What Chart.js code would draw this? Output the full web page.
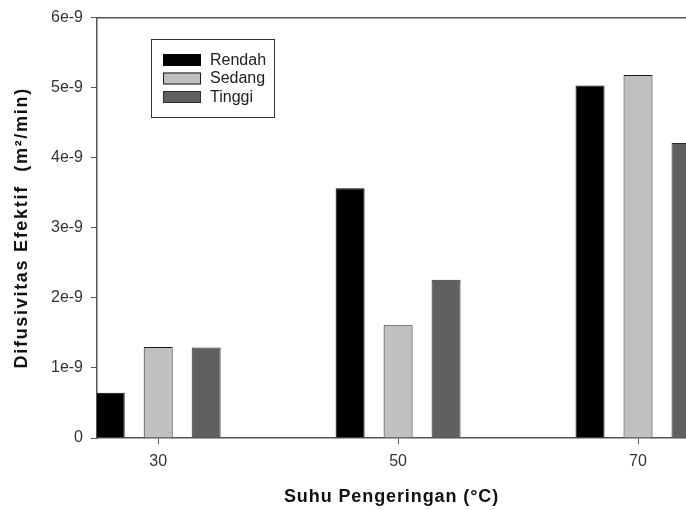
<!DOCTYPE html>
<html>
<head>
<meta charset="utf-8">
<title>Difusivitas Efektif</title>
<script src="https://cdn.jsdelivr.net/npm/chart.js@4/dist/chart.umd.min.js"></script>
<style>
  html, body { margin: 0; padding: 0; background: #fff; overflow: hidden; }
  #wrap { width: 686px; height: 510px; }
</style>
</head>
<body>
<div id="wrap"><canvas id="chart" width="686" height="510"></canvas></div>
<script>
// ── Data ──────────────────────────────────────────────────────────────
const temps  = [30, 50, 70];
const rendah = [0.645e-9, 3.566e-9, 5.03e-9];
const sedang = [1.30e-9, 1.61e-9, 5.18e-9];
const tinggi = [1.29e-9, 2.26e-9, 4.21e-9];
const yTickLabels = ['0', '1e-9', '2e-9', '3e-9', '4e-9', '5e-9', '6e-9'];

const FONT = '"Liberation Sans", Arial, sans-serif';
const AXIS_COLOR = '#555';

const toPoints = arr => arr.map((v, i) => ({ x: temps[i], y: v }));

// ── Boxed legend inside the plot (SigmaPlot style) ────────────────────
const boxLegend = {
  id: 'boxLegend',
  afterDraw(chart) {
    const ctx = chart.ctx;
    ctx.save();
    ctx.letterSpacing = '0px';
    ctx.lineWidth = 1;
    ctx.strokeStyle = '#333';
    ctx.strokeRect(151.5, 39.5, 123, 78);
    ctx.font = '16px ' + FONT;
    ctx.textBaseline = 'middle';
    chart.data.datasets.forEach((ds, i) => {
      const y = 54 + i * 18.5;
      ctx.fillStyle = ds.backgroundColor;
      ctx.fillRect(163, y, 38, 12);
      ctx.strokeStyle = ds.borderColor;
      ctx.strokeRect(163.5, y + 0.5, 37, 11);
      ctx.fillStyle = '#222';
      ctx.fillText(ds.label, 210, y + 6.5);
    });
    ctx.restore();
  }
};

// ── Wider title lettering, like the original export ───────────────────
const titleSpacing = {
  id: 'titleSpacing',
  beforeDraw(chart) {
    [['x', '0.9px'], ['y', '1.7px']].forEach(([id, sp]) => {
      const s = chart.scales[id];
      if (!s || s._spaced) return;
      const orig = s.drawTitle.bind(s);
      s.drawTitle = function () {
        const ctx = this.ctx;
        ctx.save();
        ctx.letterSpacing = sp;
        orig();
        ctx.restore();
      };
      s._spaced = true;
    });
  }
};

new Chart(document.getElementById('chart'), {
  type: 'bar',
  data: {
    datasets: [
      { label: 'Rendah', data: toPoints(rendah), backgroundColor: '#000000', borderColor: '#000000', borderWidth: 1 },
      { label: 'Sedang', data: toPoints(sedang), backgroundColor: '#c0c0c0', borderColor: '#1a1a1a', borderWidth: 1 },
      { label: 'Tinggi', data: toPoints(tinggi), backgroundColor: '#606060', borderColor: '#2e2e2e', borderWidth: 1 },
    ]
  },
  options: {
    responsive: false,
    animation: false,
    categoryPercentage: 0.6,
    barPercentage: 0.604,
    datasets: { bar: { clip: 0 } },
    layout: { padding: 0 },
    plugins: { legend: { display: false }, tooltip: { enabled: false } },
    scales: {
      x: {
        type: 'linear',
        min: 24.9,
        max: 74,
        offset: false,
        z: 1,
        afterBuildTicks: s => { s.ticks = temps.map(v => ({ value: v })); },
        afterFit: s => { s.height = 72; },
        ticks: { font: { family: FONT, size: 16 }, color: '#333', padding: 8, autoSkip: false,
                 maxRotation: 0, callback: v => String(v) },
        grid: { offset: false, drawOnChartArea: false, drawTicks: true, tickLength: 6, color: AXIS_COLOR, lineWidth: 1 },
        border: { display: true, color: AXIS_COLOR, width: 1.5 },
        title: { display: true, text: 'Suhu Pengeringan (°C)', color: '#111',
                 font: { family: FONT, size: 18, weight: 'bold' }, padding: { top: 0, bottom: 2 } }
      },
      x2: {
        type: 'linear',
        position: 'top',
        min: 24.9,
        max: 74,
        afterFit: s => { s.height = 17; },
        ticks: { display: false },
        grid: { display: false, drawTicks: false },
        border: { display: true, color: AXIS_COLOR, width: 1.5 }
      },
      y: {
        min: 0,
        max: 6e-9,
        z: 1,
        afterFit: s => { s.width = 97; },
        ticks: { stepSize: 1e-9, font: { family: FONT, size: 16 }, color: '#333', padding: 8,
                 callback: (v, i) => yTickLabels[i] },
        grid: { drawOnChartArea: false, drawTicks: true, tickLength: 6, color: AXIS_COLOR, lineWidth: 1 },
        border: { display: true, color: AXIS_COLOR, width: 1.5 },
        title: { display: true, text: 'Difusivitas Efektif  (m²/min)', color: '#111',
                 font: { family: FONT, size: 18, weight: 'bold' }, padding: { top: 11, bottom: 0 } }
      }
    }
  },
  plugins: [titleSpacing, boxLegend]
});
</script>
</body>
</html>
